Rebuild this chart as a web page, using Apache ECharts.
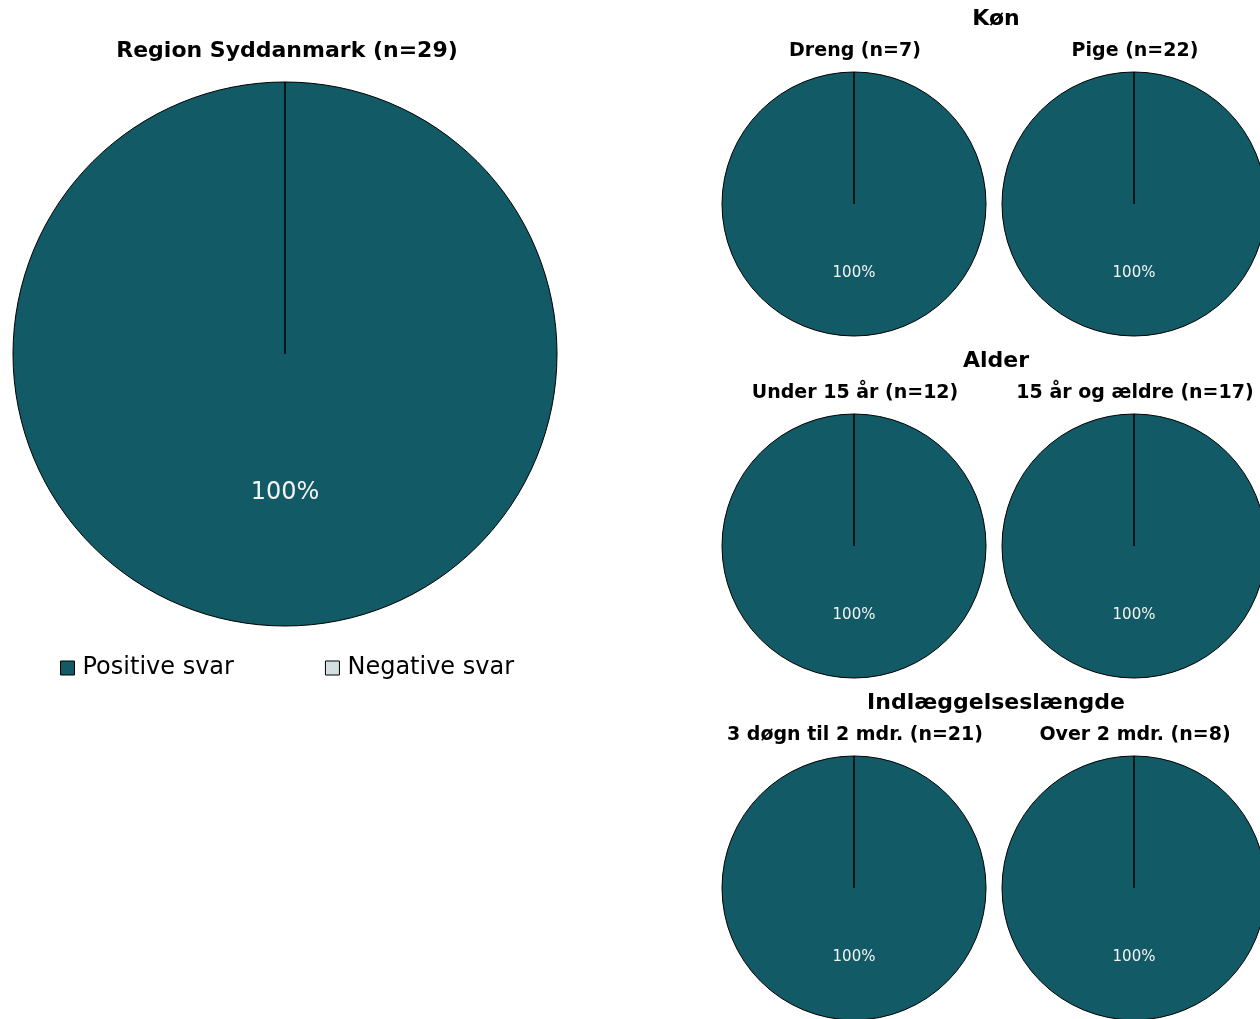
<!DOCTYPE html>
<html>
<head>
<meta charset="utf-8">
<script src="https://cdn.jsdelivr.net/npm/echarts@6/dist/echarts.min.js"></script>
<style>html,body{margin:0;padding:0;background:#fff}#c{width:1260px;height:1019px}</style>
</head>
<body>
<div id="c"></div>
<script>
const categories = ['Positive svar', 'Negative svar'];
const mainTitle = 'Region Syddanmark (n=29)';
const mainValues = [29, 0];
const groupTitles = ['Køn', 'Alder', 'Indlæggelseslængde'];
const subTitles = ['Dreng (n=7)', 'Pige (n=22)', 'Under 15 år (n=12)', '15 år og ældre (n=17)', '3 døgn til 2 mdr. (n=21)', 'Over 2 mdr. (n=8)'];
const subValues = [[7, 0], [22, 0], [12, 0], [17, 0], [21, 0], [8, 0]];
const colors = ['#125A66', '#D3E0E2'];
const FONT = 'DejaVu Sans, Verdana, sans-serif';

const chart = echarts.init(document.getElementById('c'), null, {renderer: 'canvas'});

function pieSeries(values, center, radius, labelSize) {
  return {
    type: 'pie',
    center: center,
    radius: radius,
    startAngle: 90,
    clockwise: true,
    avoidLabelOverlap: false,
    animation: false,
    silent: true,
    itemStyle: {borderColor: '#000', borderWidth: 1},
    label: {
      show: true, position: 'inner', color: '#f4f4f4', fontFamily: FONT, fontSize: labelSize,
      formatter: p => p.value > 0 ? Math.round(p.percent) + '%' : ''
    },
    labelLine: {show: false},
    data: categories.map((c, i) => ({name: c, value: values[i], itemStyle: {color: colors[i]}}))
  };
}

const colX = [854, 1134];
const rowY = [204, 546, 888];
const titles = [{
  text: mainTitle, left: 282, top: 35, textAlign: 'center',
  textStyle: {fontFamily: FONT, fontWeight: 'bold', fontSize: 22, color: '#000'}
}];
groupTitles.forEach((g, r) => {
  titles.push({text: g, left: 991, top: rowY[r] - 201, textAlign: 'center',
    textStyle: {fontFamily: FONT, fontWeight: 'bold', fontSize: 22, color: '#000'}});
});
subTitles.forEach((s, i) => {
  const r = Math.floor(i / 2), c = i % 2;
  titles.push({text: s, left: colX[c] - 4, top: rowY[r] - 167, textAlign: 'center',
    textStyle: {fontFamily: FONT, fontWeight: 'bold', fontSize: 19, color: '#000'}});
});

const series = [pieSeries(mainValues, [285, 354], 272, 24)];
subValues.forEach((v, i) => {
  const r = Math.floor(i / 2), c = i % 2;
  series.push(pieSeries(v, [colX[c], rowY[r]], 132, 15));
});

chart.setOption({
  animation: false,
  title: titles,
  legend: {
    data: categories, left: 55, top: 651, itemWidth: 14, itemHeight: 14, itemGap: 91,
    icon: 'rect',
    itemStyle: {borderColor: '#000', borderWidth: 1},
    textStyle: {fontFamily: FONT, fontSize: 24, color: '#000', padding: [0, 0, 0, 3]}
  },
  series: series
});
</script>
</body>
</html>
